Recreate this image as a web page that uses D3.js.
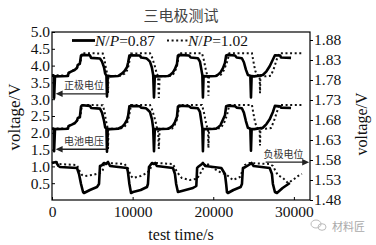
<!DOCTYPE html>
<html>
<head>
<meta charset="utf-8">
<script src="https://cdn.jsdelivr.net/npm/d3@7"></script>
<style>
  body { margin: 0; background: #fff; }
  svg text { font-family: "Liberation Serif", "DejaVu Serif", serif; }
</style>
</head>
<body>
<svg id="chart" width="376" height="245"></svg>
<script>
// axis ticks
const xTicks = [0, 10000, 20000, 30000];
const leftTicks = [0.5, 1.0, 1.5, 2.0, 2.5, 3.0, 3.5, 4.0, 4.5, 5.0];
const rightTicks = [1.48, 1.53, 1.58, 1.63, 1.68, 1.73, 1.78, 1.83, 1.88];
const seriesNames = ["0.87", "1.02"];

// positive electrode potential (left axis), [time s, V]
const posSolid = [
  [0,3.70],[250,3.70],[260,3.04],[370,3.68],[1980,3.69],[2050,3.78],[2360,3.82],[2800,3.87],[3100,3.93],[3200,4.02],[3450,4.05],[3600,4.30],[3720,4.32],[4700,4.31],[4850,4.23],[5950,4.21],[6200,4.12],[6450,3.95],[6600,3.76],[6750,3.70],[6820,3.08],[6900,3.70],
  [7200,3.68],[8200,3.69],[8700,3.77],[9000,3.84],[9300,3.95],[9450,4.10],[9600,4.30],[9800,4.31],[10900,4.30],[11050,4.24],[11650,4.22],[11800,4.20],[12150,4.12],[12400,3.93],[12550,3.72],[12650,3.05],[12750,3.69],
  [13000,3.68],[14400,3.69],[14650,3.72],[15000,3.80],[15250,3.90],[15500,4.05],[15620,4.30],[15750,4.32],[17000,4.30],[17200,4.24],[18100,4.22],[18350,4.12],[18550,3.85],[18650,3.71],[18720,3.05],[18800,3.69],
  [19100,3.68],[20300,3.69],[20600,3.73],[20900,3.80],[21200,3.92],[21450,4.08],[21600,4.30],[21800,4.32],[22700,4.30],[22900,4.24],[23550,4.22],[23800,4.10],[24050,3.88],[24300,3.72],[24600,3.70],[24680,3.05],[24760,3.69],
  [25100,3.68],[26150,3.72],[26600,3.83],[27000,3.98],[27400,4.18],[27650,4.31],[28300,4.30],[28400,4.24],[29650,4.23]
];
const posDotted = [
  [0,3.72],[2000,3.70],[2100,3.79],[2800,3.88],[3150,3.95],[3250,4.03],[3500,4.06],[3700,4.35],[3850,4.37],[6300,4.36],[6500,4.20],[6700,3.90],[6900,3.72],[6950,3.18],[7000,3.70],
  [7300,3.69],[8500,3.70],[9000,3.76],[9300,3.85],[9500,4.00],[9650,4.20],[9800,4.36],[12150,4.37],[12400,4.25],[12800,3.95],[13000,3.75],[13150,3.70],[13250,3.04],[13350,3.69],
  [14000,3.68],[14900,3.70],[15200,3.80],[15500,3.98],[15700,4.25],[15870,4.37],[18600,4.37],[18850,4.15],[19100,3.85],[19250,3.72],[19350,3.70],[19400,3.10],[19480,3.69],
  [20000,3.69],[20900,3.72],[21300,3.85],[21700,4.10],[22000,4.37],[24800,4.37],[25000,4.10],[25200,3.85],[25420,3.72],[25750,3.70],[25800,3.18],[25850,3.69],
  [26500,3.68],[27150,3.70],[27500,3.90],[27900,4.20],[28200,4.37],[31000,4.37]
];

// cell voltage (left axis)
const cellSolid = [
  [0,2.12],[250,2.12],[260,1.45],[370,2.11],[1980,2.12],[2050,2.20],[2800,2.28],[3100,2.36],[3200,2.44],[3450,2.46],[3600,2.78],[3720,2.82],[4700,2.80],[4850,2.74],[5950,2.72],[6200,2.60],[6450,2.36],[6600,2.16],[6750,2.12],[6820,1.44],[6900,2.11],
  [7200,2.11],[8200,2.12],[8700,2.18],[9000,2.26],[9300,2.38],[9450,2.52],[9600,2.79],[9800,2.80],[10900,2.79],[11050,2.75],[11650,2.73],[11800,2.70],[12150,2.62],[12400,2.40],[12550,2.14],[12650,1.45],[12750,2.11],
  [13000,2.11],[14400,2.12],[14650,2.15],[15000,2.22],[15250,2.32],[15500,2.48],[15620,2.78],[15750,2.81],[17000,2.79],[17200,2.75],[18100,2.73],[18350,2.62],[18550,2.30],[18650,2.14],[18720,1.45],[18800,2.11],
  [19100,2.11],[20300,2.12],[20600,2.16],[20900,2.23],[21450,2.52],[21600,2.79],[21800,2.81],[22700,2.79],[22900,2.75],[23550,2.73],[23800,2.60],[24050,2.35],[24300,2.15],[24600,2.12],[24680,1.47],[24760,2.11],
  [25100,2.11],[26150,2.15],[26600,2.26],[27000,2.40],[27400,2.62],[27650,2.80],[28300,2.79],[28400,2.75],[29650,2.74]
];
const cellDotted = [
  [0,2.13],[2000,2.13],[2100,2.21],[2800,2.29],[3150,2.37],[3250,2.45],[3500,2.48],[3700,2.80],[3850,2.83],[6300,2.82],[6500,2.65],[6700,2.35],[6900,2.14],[6950,1.52],[7000,2.12],
  [7300,2.12],[8500,2.13],[9000,2.18],[9300,2.28],[9500,2.42],[9650,2.62],[9800,2.83],[12150,2.83],[12400,2.70],[12800,2.38],[13000,2.17],[13150,2.12],[13250,1.52],[13350,2.12],
  [14000,2.12],[14900,2.13],[15200,2.22],[15500,2.40],[15700,2.68],[15870,2.83],[18600,2.83],[18850,2.60],[19100,2.30],[19250,2.15],[19350,2.12],[19400,1.55],[19480,2.12],
  [20000,2.12],[20900,2.14],[21300,2.27],[21700,2.52],[22000,2.83],[24800,2.83],[25000,2.55],[25200,2.30],[25420,2.15],[25750,2.12],[25800,1.62],[25850,2.12],
  [26500,2.12],[27150,2.14],[27500,2.33],[27900,2.62],[28200,2.83],[31000,2.83]
];

// negative electrode potential (right axis)
const negSolid = [
  [0,1.5725],[500,1.575],[800,1.565],[1000,1.5625],[3100,1.56],[3350,1.545],[3600,1.52],[3850,1.50],[3970,1.4975],[4700,1.505],[5580,1.5125],[5830,1.52],[5950,1.565],[6200,1.567],[6450,1.5725],[6700,1.57],[6950,1.575],[7200,1.565],[9300,1.56],
  [9420,1.55],[9600,1.52],[9800,1.4975],[10050,1.50],[11000,1.505],[11780,1.5125],[11900,1.52],[12030,1.5625],[12400,1.5725],[12650,1.57],[12800,1.5725],[13000,1.565],[15000,1.56],
  [15250,1.545],[15400,1.52],[15620,1.50],[16100,1.5025],[17480,1.51],[17900,1.515],[18000,1.56],[18100,1.5625],[18600,1.57],[18720,1.5725],[19000,1.565],[21000,1.56],
  [21450,1.545],[21600,1.52],[21700,1.50],[21820,1.4975],[22500,1.505],[23400,1.5125],[23560,1.52],[23680,1.56],[24000,1.5625],[24600,1.57],[24750,1.5725],[25000,1.565],[27000,1.56],
  [27280,1.545],[27400,1.52],[27650,1.50],[27900,1.4975],[28600,1.51],[29500,1.5225]
];
const negDotted = [
  [0,1.5725],[500,1.577],[800,1.57],[3100,1.5675],[3350,1.555],[3720,1.5425],[4100,1.54],[5000,1.5425],[5950,1.5475],[6300,1.555],[6450,1.57],[7000,1.5725],[9000,1.57],
  [9400,1.56],[9800,1.54],[10050,1.535],[11000,1.54],[11780,1.5475],[12150,1.555],[12400,1.57],[13000,1.5725],[15000,1.57],
  [15500,1.55],[16100,1.535],[17100,1.53],[17980,1.533],[18350,1.545],[18900,1.565],[19100,1.5725],[19960,1.56],
  [20830,1.55],[21700,1.5425],[22440,1.53],[23310,1.5375],[23560,1.55],[23930,1.5675],[24500,1.5725],[27000,1.57],
  [27400,1.565],[28000,1.5425],[28650,1.535],[29260,1.5225],[29880,1.53],[30500,1.54],[31000,1.545]
];

// text notes: [label, time, V, axis, arrow from, arrow to, arrow V]
const notes = [
  ["正极电位", 3970, 3.30, "L", 6750, 450, 3.16],
  ["电池电压", 3970, 1.63, "L", 6750, 450, 1.51],
  ["负极电位", 28700, 1.586, "R", 26500, 31900, 1.5745]
];

const m = { left: 52, right: 310, top: 32, bottom: 200 };
const svg = d3.select("#chart");

const x = d3.scaleLinear().domain([0, 32000]).range([m.left, m.right]);
const yL = d3.scaleLinear().domain([0, 5]).range([m.bottom, m.top]);
const yR = d3.scaleLinear().domain([1.48, 1.90]).range([m.bottom, m.top]);

// title
svg.append("text")
  .attr("x", 181).attr("y", 21)
  .attr("text-anchor", "middle")
  .style("font-family", "'Noto Sans CJK SC'")
  .style("font-size", "15px")
  .style("fill", "#444")
  .text("三电极测试");

// axes
const gx = svg.append("g").attr("transform", `translate(0,${m.bottom})`)
  .call(d3.axisBottom(x).tickValues(xTicks).tickSize(-3).tickPadding(6).tickFormat(d3.format("d")));
const gl = svg.append("g").attr("transform", `translate(${m.left},0)`)
  .call(d3.axisLeft(yL).tickValues(leftTicks).tickSize(-3).tickPadding(2).tickFormat(d3.format(".1f")));
const gr = svg.append("g").attr("transform", `translate(${m.right},0)`)
  .call(d3.axisRight(yR).tickValues(rightTicks).tickSize(3).tickPadding(1).tickFormat(d3.format(".2f")));

[gx, gl, gr].forEach(g => {
  g.select(".domain").remove();
  g.selectAll("line").attr("stroke", "#000");
  g.selectAll("text").style("font-size", "15.5px").style("fill", "#111")
    .style("font-family", "'Liberation Serif', serif");
});

// frame
svg.append("rect")
  .attr("x", m.left).attr("y", m.top)
  .attr("width", m.right - m.left).attr("height", m.bottom - m.top)
  .attr("fill", "none").attr("stroke", "#000").attr("stroke-width", 1.2);

// axis titles
svg.append("text")
  .attr("transform", `translate(20,117) rotate(-90)`)
  .attr("text-anchor", "middle")
  .style("font-size", "17px").style("fill", "#111")
  .text("voltage/V");
svg.append("text")
  .attr("transform", `translate(367,124) rotate(-90)`)
  .attr("text-anchor", "middle")
  .style("font-size", "16px").style("fill", "#111")
  .text("voltage/V");
svg.append("text")
  .attr("x", 181).attr("y", 240)
  .attr("text-anchor", "middle")
  .style("font-size", "16px").style("fill", "#111")
  .text("test time/s");

// curves
const lineL = d3.line().x(d => x(d[0])).y(d => yL(d[1]));
const lineR = d3.line().x(d => x(d[0])).y(d => yR(d[1]));

const dotted = [[posDotted, lineL], [cellDotted, lineL], [negDotted, lineR]];
const solid = [[posSolid, lineL], [cellSolid, lineL], [negSolid, lineR]];

dotted.forEach(([data, ln]) => {
  svg.append("path").datum(data)
    .attr("d", ln)
    .attr("fill", "none")
    .attr("stroke", "#111")
    .attr("stroke-width", 2)
    .attr("stroke-dasharray", "2,2.6");
});
solid.forEach(([data, ln]) => {
  svg.append("path").datum(data)
    .attr("d", ln)
    .attr("fill", "none")
    .attr("stroke", "#000")
    .attr("stroke-width", 2.6)
    .attr("stroke-linejoin", "round");
});

// notes with arrows
notes.forEach(([label, t, v, axis, a0, a1, av]) => {
  const ys = axis === "L" ? yL : yR;
  svg.append("text")
    .attr("x", x(t)).attr("y", ys(v))
    .attr("text-anchor", "middle")
    .style("font-family", "'Noto Sans CJK SC'")
    .style("font-size", "10px")
    .style("fill", "#333")
    .text(label);
  const xa = x(a0), xb = x(a1), ya = ys(av);
  const dir = xb > xa ? 1 : -1;
  svg.append("line")
    .attr("x1", xa).attr("x2", xb - dir * 5)
    .attr("y1", ya).attr("y2", ya)
    .attr("stroke", "#222").attr("stroke-width", 1.3);
  svg.append("path")
    .attr("d", `M${xb},${ya} L${xb - dir * 7},${ya - 3.2} L${xb - dir * 7},${ya + 3.2} Z`)
    .attr("fill", "#222");
});

// legend
const leg = svg.append("g");
leg.append("line").attr("x1", 72).attr("x2", 95).attr("y1", 40.5).attr("y2", 40.5)
  .attr("stroke", "#000").attr("stroke-width", 2.8);
leg.append("line").attr("x1", 167).attr("x2", 188).attr("y1", 40.5).attr("y2", 40.5)
  .attr("stroke", "#111").attr("stroke-width", 2).attr("stroke-dasharray", "2,2.6");
[[95, seriesNames[0]], [188, seriesNames[1]]].forEach(([lx, s]) => {
  const t = leg.append("text").attr("x", lx).attr("y", 46)
    .style("font-size", "15.5px").style("fill", "#111");
  t.append("tspan").style("font-style", "italic").text("N");
  t.append("tspan").text("/");
  t.append("tspan").style("font-style", "italic").text("P");
  t.append("tspan").text("=" + s);
});

// watermark
const wm = svg.append("g").attr("fill", "none").attr("stroke", "#bbb").attr("stroke-width", 1);
wm.append("ellipse").attr("cx", 316).attr("cy", 224).attr("rx", 5).attr("ry", 4);
wm.append("ellipse").attr("cx", 322).attr("cy", 227).attr("rx", 4).attr("ry", 3.3);
svg.append("text")
  .attr("x", 332).attr("y", 231)
  .style("font-family", "'Noto Sans CJK SC'")
  .style("font-size", "11px")
  .style("fill", "#aaa")
  .text("材料匠");
</script>
</body>
</html>
